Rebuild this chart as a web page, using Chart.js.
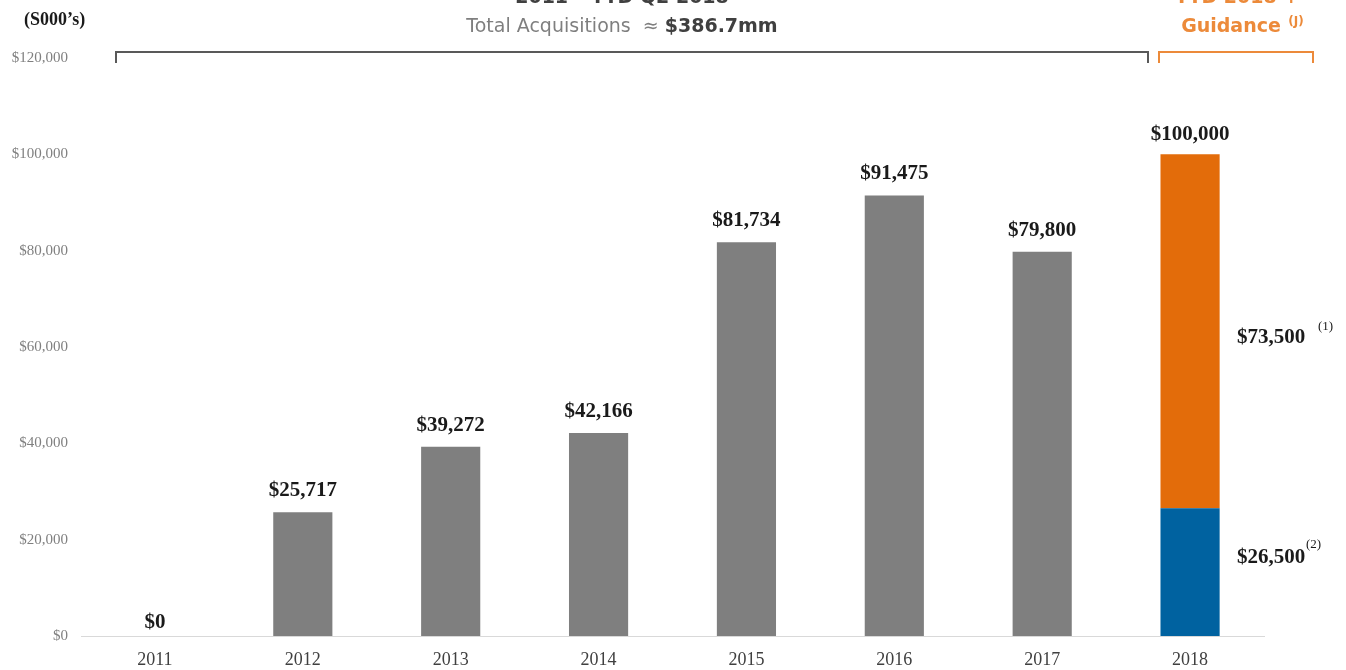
<!DOCTYPE html>
<html>
<head>
<meta charset="utf-8">
<script src="https://cdn.jsdelivr.net/npm/chart.js@4.4.1/dist/chart.umd.min.js"></script>
<style>
  html, body { margin: 0; padding: 0; background: #fff; }
  #wrap { width: 1346px; height: 670px; position: relative; }
</style>
</head>
<body>
<div id="wrap"><canvas id="acqChart"></canvas></div>
<script>
// Datos del gráfico
const years = ['2011', '2012', '2013', '2014', '2015', '2016', '2017', '2018'];
const acquisitions = [0, 25717, 39272, 42166, 81734, 91475, 79800, null];
const ytd2018 = [null, null, null, null, null, null, null, 26500];
const guidance2018 = [null, null, null, null, null, null, null, 73500];
const total2018 = 100000;
const yTicks = [0, 20000, 40000, 60000, 80000, 100000, 120000];

const GRAY = '#7f7f7f';
const BLUE = '#0062a0';
const ORANGE = '#e36c0a';
const ORANGE_TXT = '#ec8a3a';
const SERIF = '"Liberation Serif", "Times New Roman", serif';
const SANS = '"DejaVu Sans", Lato, sans-serif';

const money = v => '$' + v.toLocaleString('en-US');

// Etiquetas, corchetes y títulos
const annotations = {
    id: 'annotations',
    afterDatasetsDraw(chart) {
        const c = chart.ctx;
        const y = chart.scales.y;
        c.save();

        // etiquetas sobre las barras grises
        const meta0 = chart.getDatasetMeta(0);
        c.font = 'bold 21px ' + SERIF;
        c.fillStyle = '#1a1a1a';
        c.textAlign = 'center';
        c.textBaseline = 'bottom';
        acquisitions.forEach((v, i) => {
            if (v === null) return;
            const bar = meta0.data[i];
            c.fillText(money(v), bar.x, bar.y - (v === 0 ? 3 : 11));
        });

        // 2018: total encima, segmentos a la derecha
        const metaO = chart.getDatasetMeta(2);
        const i18 = years.length - 1;
        const barO = metaO.data[i18];
        c.fillText(money(total2018), barO.x, y.getPixelForValue(total2018) - 9);

        c.textAlign = 'left';
        c.textBaseline = 'middle';
        const lx = barO.x + 47;
        c.fillText(money(guidance2018[i18]), lx, 338);
        c.fillText(money(ytd2018[i18]), lx, 558);
        c.font = '13px ' + SERIF;
        c.fillText('(1)', 1318, 327);
        c.fillText('(2)', 1306, 545);

        // unidades
        c.font = 'bold 18px ' + SERIF;
        c.textAlign = 'left';
        c.fillText('(S000\u2019s)', 24, 20);

        // títulos superiores
        c.textAlign = 'center';
        c.font = 'bold 19px ' + SANS;
        c.fillStyle = '#404040';
        c.fillText('2011 \u2013 YTD Q2 2018', 622, -2);
        const p1 = 'Total Acquisitions  \u2248 ';
        c.font = '19px ' + SANS;
        const w1 = c.measureText(p1).width;
        c.font = 'bold 19px ' + SANS;
        const w2 = c.measureText('$386.7mm').width;
        const sx = 622 - (w1 + w2) / 2;
        c.textAlign = 'left';
        c.font = '19px ' + SANS;
        c.fillStyle = '#7f7f7f';
        c.fillText(p1, sx, 27);
        c.font = 'bold 19px ' + SANS;
        c.fillStyle = '#404040';
        c.fillText('$386.7mm', sx + w1, 27);

        c.fillStyle = ORANGE_TXT;
        c.textAlign = 'center';
        c.fillText('YTD 2018 +', 1237, -2);
        c.fillText('Guidance', 1231, 27);
        c.font = 'bold 12px ' + SANS;
        c.fillText('(J)', 1296, 22);

        // corchetes
        c.lineWidth = 2;
        c.strokeStyle = '#595959';
        c.beginPath();
        c.moveTo(116, 63); c.lineTo(116, 52); c.lineTo(1148, 52); c.lineTo(1148, 63);
        c.stroke();
        c.strokeStyle = ORANGE_TXT;
        c.beginPath();
        c.moveTo(1159, 63); c.lineTo(1159, 52); c.lineTo(1313, 52); c.lineTo(1313, 63);
        c.stroke();

        c.restore();
    }
};

const barOpts = { barPercentage: 0.4, categoryPercentage: 1.0, borderWidth: 0 };

new Chart(document.getElementById('acqChart'), {
    type: 'bar',
    data: {
        labels: years,
        datasets: [
            { label: 'Acquisitions', data: acquisitions, backgroundColor: GRAY, ...barOpts },
            { label: 'YTD 2018', data: ytd2018, backgroundColor: BLUE, ...barOpts },
            { label: 'Guidance', data: guidance2018, backgroundColor: ORANGE, ...barOpts }
        ]
    },
    options: {
        responsive: true,
        maintainAspectRatio: false,
        animation: false,
        layout: { padding: { top: 58, right: 82, left: 0, bottom: 0 } },
        plugins: { legend: { display: false }, tooltip: { enabled: false } },
        scales: {
            x: {
                stacked: true,
                grid: { display: false, drawTicks: false },
                border: { display: true, color: '#d9d9d9', width: 1 },
                ticks: { color: '#404040', padding: 13, font: { family: SERIF, size: 18 } },
                afterFit: s => { s.height = 34; }
            },
            y: {
                stacked: true,
                min: 0,
                max: 120000,
                grid: { display: false, drawTicks: false },
                border: { display: false },
                afterBuildTicks: s => { s.ticks = yTicks.map(v => ({ value: v })); },
                afterFit: s => { s.width = 81; },
                ticks: {
                    color: '#808080',
                    padding: 13,
                    font: { family: SERIF, size: 15 },
                    callback: v => money(v)
                }
            }
        }
    },
    plugins: [annotations]
});
</script>
</body>
</html>
